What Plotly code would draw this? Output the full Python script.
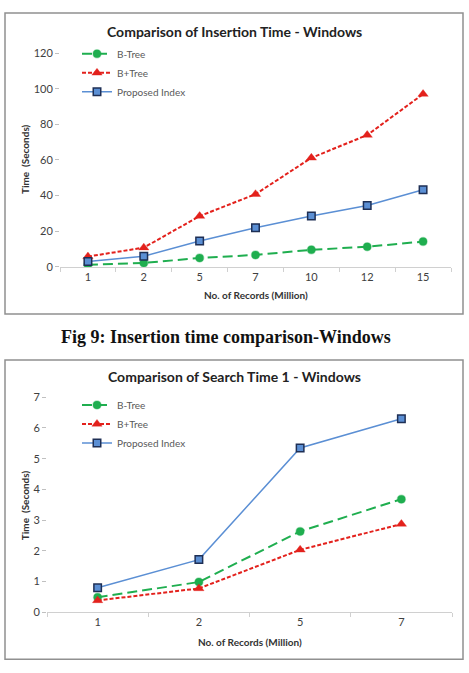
import plotly.graph_objects as go

W, H = 469, 673


def px(x):
    return x / W


def py(y):
    return 1 - y / H


# ---------------- data ----------------
series_names = ["B-Tree", "B+Tree", "Proposed Index"]

ins_records = ["1", "2", "5", "7", "10", "12", "15"]
ins_btree = [1.2, 2.2, 5.0, 6.7, 9.6, 11.3, 14.2]
ins_bplus = [5.8, 10.8, 28.5, 40.8, 61.2, 74.0, 97.0]
ins_proposed = [3.0, 6.0, 14.5, 22.0, 28.5, 34.5, 43.3]
ins_yticks = [0, 20, 40, 60, 80, 100, 120]

srch_records = ["1", "2", "5", "7"]
srch_btree = [0.48, 0.98, 2.63, 3.68]
srch_bplus = [0.38, 0.77, 2.03, 2.87]
srch_proposed = [0.79, 1.71, 5.35, 6.30]
srch_yticks = [0, 1, 2, 3, 4, 5, 6, 7]

title1 = "Comparison of Insertion Time - Windows"
title2 = "Comparison of Search Time 1 - Windows"
caption = "Fig 9: Insertion time comparison-Windows"
xtitle = "No. of Records (Million)"
ytitle = "Time  (Seconds)"

# ---------------- styles ----------------
GREEN = "#1fae4f"
RED = "#e3211c"
BLUE = "#5b8fd4"
BLUE_EDGE = "#1e2f55"
FONT = "Lato"

styles = [
    dict(line=dict(color=GREEN, width=2, dash="10px,5px"),
         marker=dict(symbol="circle", size=8, color=GREEN,
                     line=dict(color="rgba(31,174,79,0.35)", width=1.5))),
    dict(line=dict(color=RED, width=2, dash="4px,2px"),
         marker=dict(symbol="triangle-up", size=9, color=RED,
                     line=dict(color="rgba(227,33,28,0.35)", width=1))),
    dict(line=dict(color=BLUE, width=1.5),
         marker=dict(symbol="square", size=7.5, color=BLUE,
                     line=dict(color=BLUE_EDGE, width=1.5))),
]

fig = go.Figure()

ins_data = [ins_btree, ins_bplus, ins_proposed]
srch_data = [srch_btree, srch_bplus, srch_proposed]

for name, ys, st in zip(series_names, ins_data, styles):
    fig.add_trace(go.Scatter(x=ins_records, y=ys, name=name, mode="lines+markers",
                             xaxis="x", yaxis="y", legend="legend", **st))
for name, ys, st in zip(series_names, srch_data, styles):
    fig.add_trace(go.Scatter(x=srch_records, y=ys, name=name, mode="lines+markers",
                             xaxis="x2", yaxis="y2", legend="legend2", **st))

tickfont = dict(family=FONT, size=11, color="#404040")
xax_common = dict(type="category", showline=True, linecolor="#d0d0d0", linewidth=1,
                  ticks="outside", tickson="boundaries", ticklen=4, tickcolor="#d0d0d0",
                  showgrid=False, zeroline=False, tickfont=tickfont, fixedrange=True)
yax_common = dict(showline=False, showgrid=False, zeroline=False, ticks="outside",
                  ticklen=4, tickcolor="#c0c0c0", tickfont=tickfont, fixedrange=True)

legend_common = dict(xanchor="left", yanchor="top", bgcolor="rgba(0,0,0,0)",
                     font=dict(family=FONT, size=10, color="#595959"),
                     itemwidth=30, tracegroupgap=0)

fig.update_layout(
    width=W, height=H,
    margin=dict(l=0, r=0, t=0, b=0),
    paper_bgcolor="white", plot_bgcolor="white",
    xaxis=dict(domain=[px(60), px(451)], range=[-0.5, 6.5], anchor="y", **xax_common),
    yaxis=dict(domain=[py(265), py(47)], range=[0, 120], tickvals=ins_yticks,
               anchor="x", **yax_common),
    xaxis2=dict(domain=[px(47), px(452)], range=[-0.5, 3.5], anchor="y2", **xax_common),
    yaxis2=dict(domain=[py(617), py(398)], range=[0, 7], tickvals=srch_yticks,
                anchor="x2", **yax_common),
    legend=dict(x=px(77), y=py(33), **legend_common),
    legend2=dict(x=px(77), y=py(391), **legend_common),
    showlegend=True,
)

# frames around each chart
for (x0, y0, x1, y1) in [(5, 6, 463, 313), (5, 360, 463, 665)]:
    fig.add_shape(type="rect", xref="paper", yref="paper",
                  x0=px(x0), x1=px(x1), y0=py(y1), y1=py(y0),
                  line=dict(color="#909090", width=1.5), fillcolor="rgba(0,0,0,0)")

ann = []
ann.append(dict(text="<b>%s</b>" % title1, x=px(234), y=py(25),
                font=dict(family=FONT, size=14, color="#222222")))
ann.append(dict(text="<b>%s</b>" % title2, x=px(234), y=py(377),
                font=dict(family=FONT, size=14, color="#222222")))
ann.append(dict(text="<b>%s</b>" % xtitle, x=px(256), y=py(294),
                font=dict(family=FONT, size=10, color="#333333")))
ann.append(dict(text="<b>%s</b>" % xtitle, x=px(250), y=py(647),
                font=dict(family=FONT, size=10, color="#333333")))
ann.append(dict(text="<b>%s</b>" % ytitle, x=px(25), y=py(155), textangle=-90,
                font=dict(family=FONT, size=10, color="#333333")))
ann.append(dict(text="<b>%s</b>" % ytitle, x=px(25), y=py(508), textangle=-90,
                font=dict(family=FONT, size=10, color="#333333")))
ann.append(dict(text="<b>%s</b>" % caption, x=px(226), y=py(337),
                font=dict(family="Liberation Serif", size=18, color="#111111")))

for a in ann:
    fig.add_annotation(xref="paper", yref="paper", showarrow=False,
                       xanchor="center", yanchor="middle", **a)

fig.write_html("out.html")
